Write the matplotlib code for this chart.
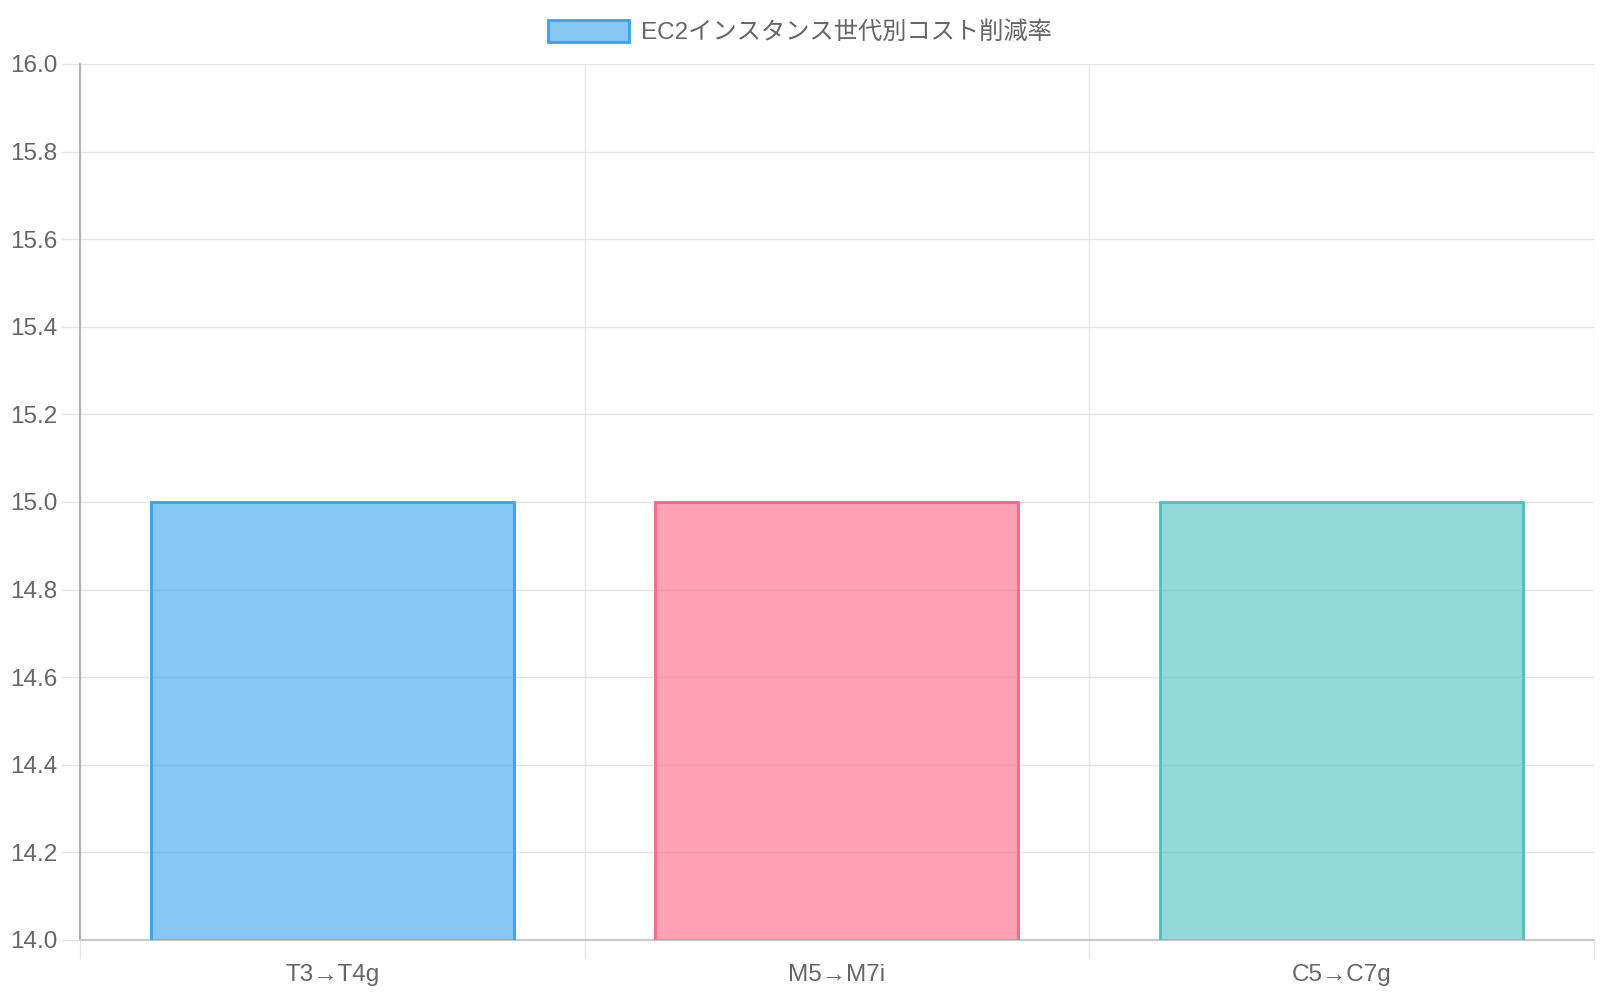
import matplotlib
matplotlib.use("Agg")
import matplotlib.pyplot as plt
from matplotlib.patches import Patch
import numpy as np

plt.rcParams['font.family'] = ['Liberation Sans', 'Noto Sans CJK JP', 'DejaVu Sans']

# data
categories = ['T3→T4g', 'M5→M7i', 'C5→C7g']
reduction = [15, 15, 15]
series_label = 'EC2インスタンス世代別コスト削減率'
y_ticks = [14.0, 14.2, 14.4, 14.6, 14.8, 15.0, 15.2, 15.4, 15.6, 15.8, 16.0]

fills = [(54/255, 162/255, 235/255, 0.6), (255/255, 99/255, 132/255, 0.6), (75/255, 192/255, 192/255, 0.6)]
edges = ['#36a2eb', '#ff6384', '#4bc0c0']
text_color = '#666666'
grid_color = '#e5e5e5'

fig = plt.figure(figsize=(16, 10), dpi=100)
ax = fig.add_axes([0.05, 0.06, 0.946, 0.876])

x = np.arange(len(categories))
ax.bar(x, reduction, width=0.72, color=fills, edgecolor=edges, linewidth=2, zorder=3)

ax.set_xlim(-0.5, len(categories) - 0.5)
ax.set_ylim(14, 16)

# y axis
ax.set_yticks(y_ticks)
ax.set_yticklabels([f'{v:.1f}' for v in y_ticks])
ax.tick_params(axis='y', length=14, width=1, color=grid_color, labelsize=17.5,
               labelcolor=text_color, pad=2.5)

# x axis: gridlines at category boundaries, labels at centers
ax.set_xticks(np.arange(-0.5, len(categories), 1.0))
ax.set_xticklabels([])
ax.set_xticks(x, minor=True)
ax.set_xticklabels(categories, minor=True)
ax.tick_params(axis='x', which='major', length=14, width=1, color=grid_color)
ax.tick_params(axis='x', which='minor', length=0, labelsize=17.5,
               labelcolor=text_color, pad=17)

ax.grid(True, which='major', color=grid_color, linewidth=1, zorder=0)
ax.set_axisbelow(True)

for side in ['top', 'right']:
    ax.spines[side].set_visible(False)
ax.spines['left'].set_color('#b3b3b3')
ax.spines['left'].set_linewidth(1.5)
ax.spines['bottom'].set_color('#c8c8c8')
ax.spines['bottom'].set_linewidth(1.5)

handle = Patch(facecolor=fills[0], edgecolor=edges[0], linewidth=2)
leg = ax.legend([handle], [series_label], loc='center', bbox_to_anchor=(0.5, 0.968),
                bbox_transform=fig.transFigure, frameon=False, fontsize=17.5,
                handlelength=3.3, handleheight=1.0, handletextpad=0.5)
for t in leg.get_texts():
    t.set_color(text_color)
    t.set_fontfamily(['Liberation Sans', 'Noto Sans CJK JP'])

fig.savefig('out.png', dpi=100, facecolor='white')
